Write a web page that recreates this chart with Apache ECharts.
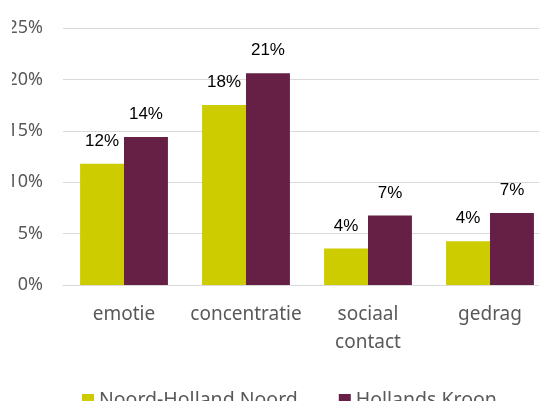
<!DOCTYPE html>
<html><head><meta charset="utf-8">
<script src="https://cdn.jsdelivr.net/npm/echarts@6/dist/echarts.min.js"></script>
<style>html,body{margin:0;padding:0;background:#fff}#c{width:539px;height:401px}</style>
</head><body><div id="c"></div>
<script>
const categories = ['emotie', 'concentratie', 'sociaal contact', 'gedrag'];
const noordHollandNoord = [11.8, 17.5, 3.55, 4.25];
const hollandsKroon = [14.4, 20.6, 6.75, 7.0];
const seriesNames = ['Noord-Holland Noord', 'Hollands Kroon'];
const yTicks = [0, 5, 10, 15, 20, 25];

const chart = echarts.init(document.getElementById('c'));
const labelCfg = {
  show: true, position: 'top', distance: 14,
  fontFamily: 'Liberation Sans', fontSize: 17, color: '#000',
  formatter: p => Math.round(p.value) + '%'
};
chart.setOption({
  animation: false,
  grid: { left: 63, width: 488, top: 28, bottom: 116, containLabel: false, outerBoundsMode: 'none' },
  graphic: [{ type: 'rect', left: 0, top: 0, shape: { width: 12, height: 300 }, style: { fill: '#fff' }, z: 100 }],
  legend: {
    left: 77, top: 385, itemWidth: 12, itemHeight: 12, itemGap: 41,
    icon: 'rect',
    textStyle: { fontFamily: 'Noto Sans', fontSize: 19.5, color: '#595959' },
    data: seriesNames
  },
  xAxis: {
    type: 'category', data: categories,
    axisLine: { show: true, lineStyle: { color: '#d9d9d9', width: 1 } },
    axisTick: { show: false },
    axisLabel: {
      interval: 0,
      fontFamily: 'Noto Sans', fontSize: 19, color: '#595959', margin: 16, lineHeight: 28,
      formatter: v => v.replace(' ', '\n')
    }
  },
  yAxis: {
    type: 'value', min: yTicks[0], max: yTicks[yTicks.length-1], interval: 5,
    axisLine: { show: false }, axisTick: { show: false },
    splitLine: { lineStyle: { color: '#d9d9d9', width: 1 } },
    axisLabel: { fontFamily: 'Noto Sans', fontSize: 18, color: '#595959', margin: 20, formatter: v => v + '%' }
  },
  series: [
    { name: seriesNames[0], type: 'bar', data: noordHollandNoord, barGap: '0%', barCategoryGap: '28%',
      itemStyle: { color: '#cccc00' }, label: labelCfg },
    { name: seriesNames[1], type: 'bar', data: hollandsKroon,
      itemStyle: { color: '#661f45' }, label: labelCfg }
  ]
});
</script></body></html>
